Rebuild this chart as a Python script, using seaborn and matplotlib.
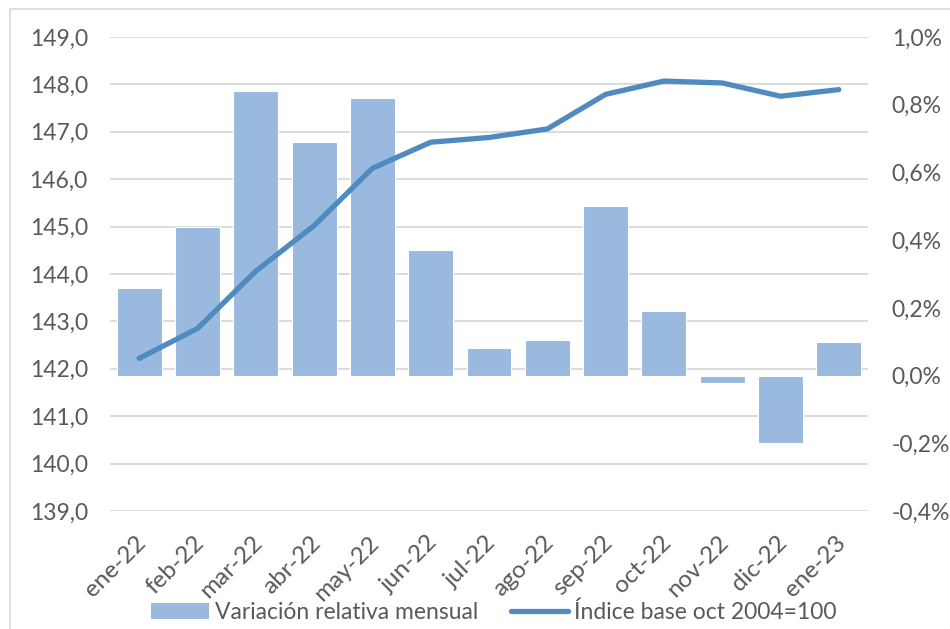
import numpy as np
import pandas as pd
import matplotlib
matplotlib.use('Agg')
import matplotlib.pyplot as plt
from matplotlib.ticker import FuncFormatter
from matplotlib.patches import Patch, Rectangle
from matplotlib.lines import Line2D
import matplotlib.transforms as mtransforms
import seaborn as sns

# Data
months = ['ene-22', 'feb-22', 'mar-22', 'abr-22', 'may-22', 'jun-22', 'jul-22',
          'ago-22', 'sep-22', 'oct-22', 'nov-22', 'dic-22', 'ene-23']
variacion = [0.26, 0.44, 0.84, 0.69, 0.82, 0.37, 0.08,
             0.105, 0.50, 0.19, -0.023, -0.20, 0.10]
indice = [142.22, 142.85, 144.06, 145.02, 146.23, 146.78, 146.88,
          147.06, 147.79, 148.07, 148.03, 147.75, 147.89]

bar_label = 'Variación relativa mensual'
line_label = 'Índice base oct 2004=100'

df = pd.DataFrame({'mes': months, 'var': variacion, 'idx': indice,
                   'pos': np.arange(len(months))})

sns.set_style('white')
plt.rcParams['font.family'] = ['Lato', 'DejaVu Sans']
text_col = '#595959'
bar_col = '#9ab9df'
line_col = '#4f8bc0'
fs = 16.5

fig = plt.figure(figsize=(9.5, 6.29), dpi=100)
ax = fig.add_axes([0.1158, 0.1876, 0.7979, 0.7536])

# bars on the primary axis (percent scale, labels on the right)
sns.barplot(data=df, x='mes', y='var', ax=ax, color=bar_col, width=0.77,
            edgecolor='white', linewidth=0.8, saturation=1)

# index line on a twin axis, labels on the left
ax2 = ax.twinx()
sns.lineplot(data=df, x='pos', y='idx', ax=ax2, color=line_col, linewidth=3.8,
             sort=False, solid_capstyle='round')

ax.set_xlim(-0.5, len(months) - 0.5)
ax.set_ylim(-0.4, 1.0)
ax.set_yticks(np.arange(-0.4, 1.01, 0.2))
ax.yaxis.remove_overlapping_locs = False
ax.set_yticks(np.linspace(-0.4, 1.0, 11), minor=True)
ax.grid(which='minor', axis='y', color='#d9d9d9', linewidth=1.3)
ax.grid(which='major', axis='y', visible=False)
ax.set_axisbelow(True)
ax.yaxis.tick_right()
ax.yaxis.set_major_formatter(FuncFormatter(lambda v, p: f'{v:.1f}%'.replace('.', ',')))
ax.tick_params(axis='y', which='both', length=0, labelsize=fs, labelcolor=text_col, pad=17)
ax.tick_params(axis='x', length=0, labelsize=17.5, labelcolor=text_col, pad=15)
shift = mtransforms.ScaledTranslation(-4 / 100, 0, fig.dpi_scale_trans)
for lab in ax.get_xticklabels():
    lab.set_rotation(45)
    lab.set_ha('right')
    lab.set_rotation_mode('anchor')
    lab.set_transform(lab.get_transform() + shift)
ax.set_xlabel('')
ax.set_ylabel('')

ax2.set_ylim(139, 149)
ax2.set_yticks(np.arange(139, 149.1, 1))
ax2.yaxis.tick_left()
ax2.yaxis.set_major_formatter(FuncFormatter(lambda v, p: f'{v:.1f}'.replace('.', ',')))
ax2.tick_params(axis='y', length=0, labelsize=fs, labelcolor=text_col, pad=16)
ax2.set_ylabel('')
ax2.set_xlabel('')

for a in (ax, ax2):
    for s in a.spines.values():
        s.set_visible(False)

handles = [Patch(facecolor=bar_col, edgecolor='none'),
           Line2D([0], [0], color=line_col, linewidth=3.8, solid_capstyle='round')]
fig.legend(handles, [bar_label, line_label], loc='center', ncol=2,
           bbox_to_anchor=(0.52, 0.027), frameon=False, fontsize=fs,
           labelcolor=text_col, handlelength=2.5, handletextpad=0.25,
           columnspacing=1.45)

# light chart-area border
fig.patches.append(Rectangle((10 / 950, -0.01), 1.0, 1 - 9 / 629 + 0.01,
                             transform=fig.transFigure, fill=False,
                             edgecolor='#d9d9d9', linewidth=1.2))

fig.savefig('out.png', dpi=100)
